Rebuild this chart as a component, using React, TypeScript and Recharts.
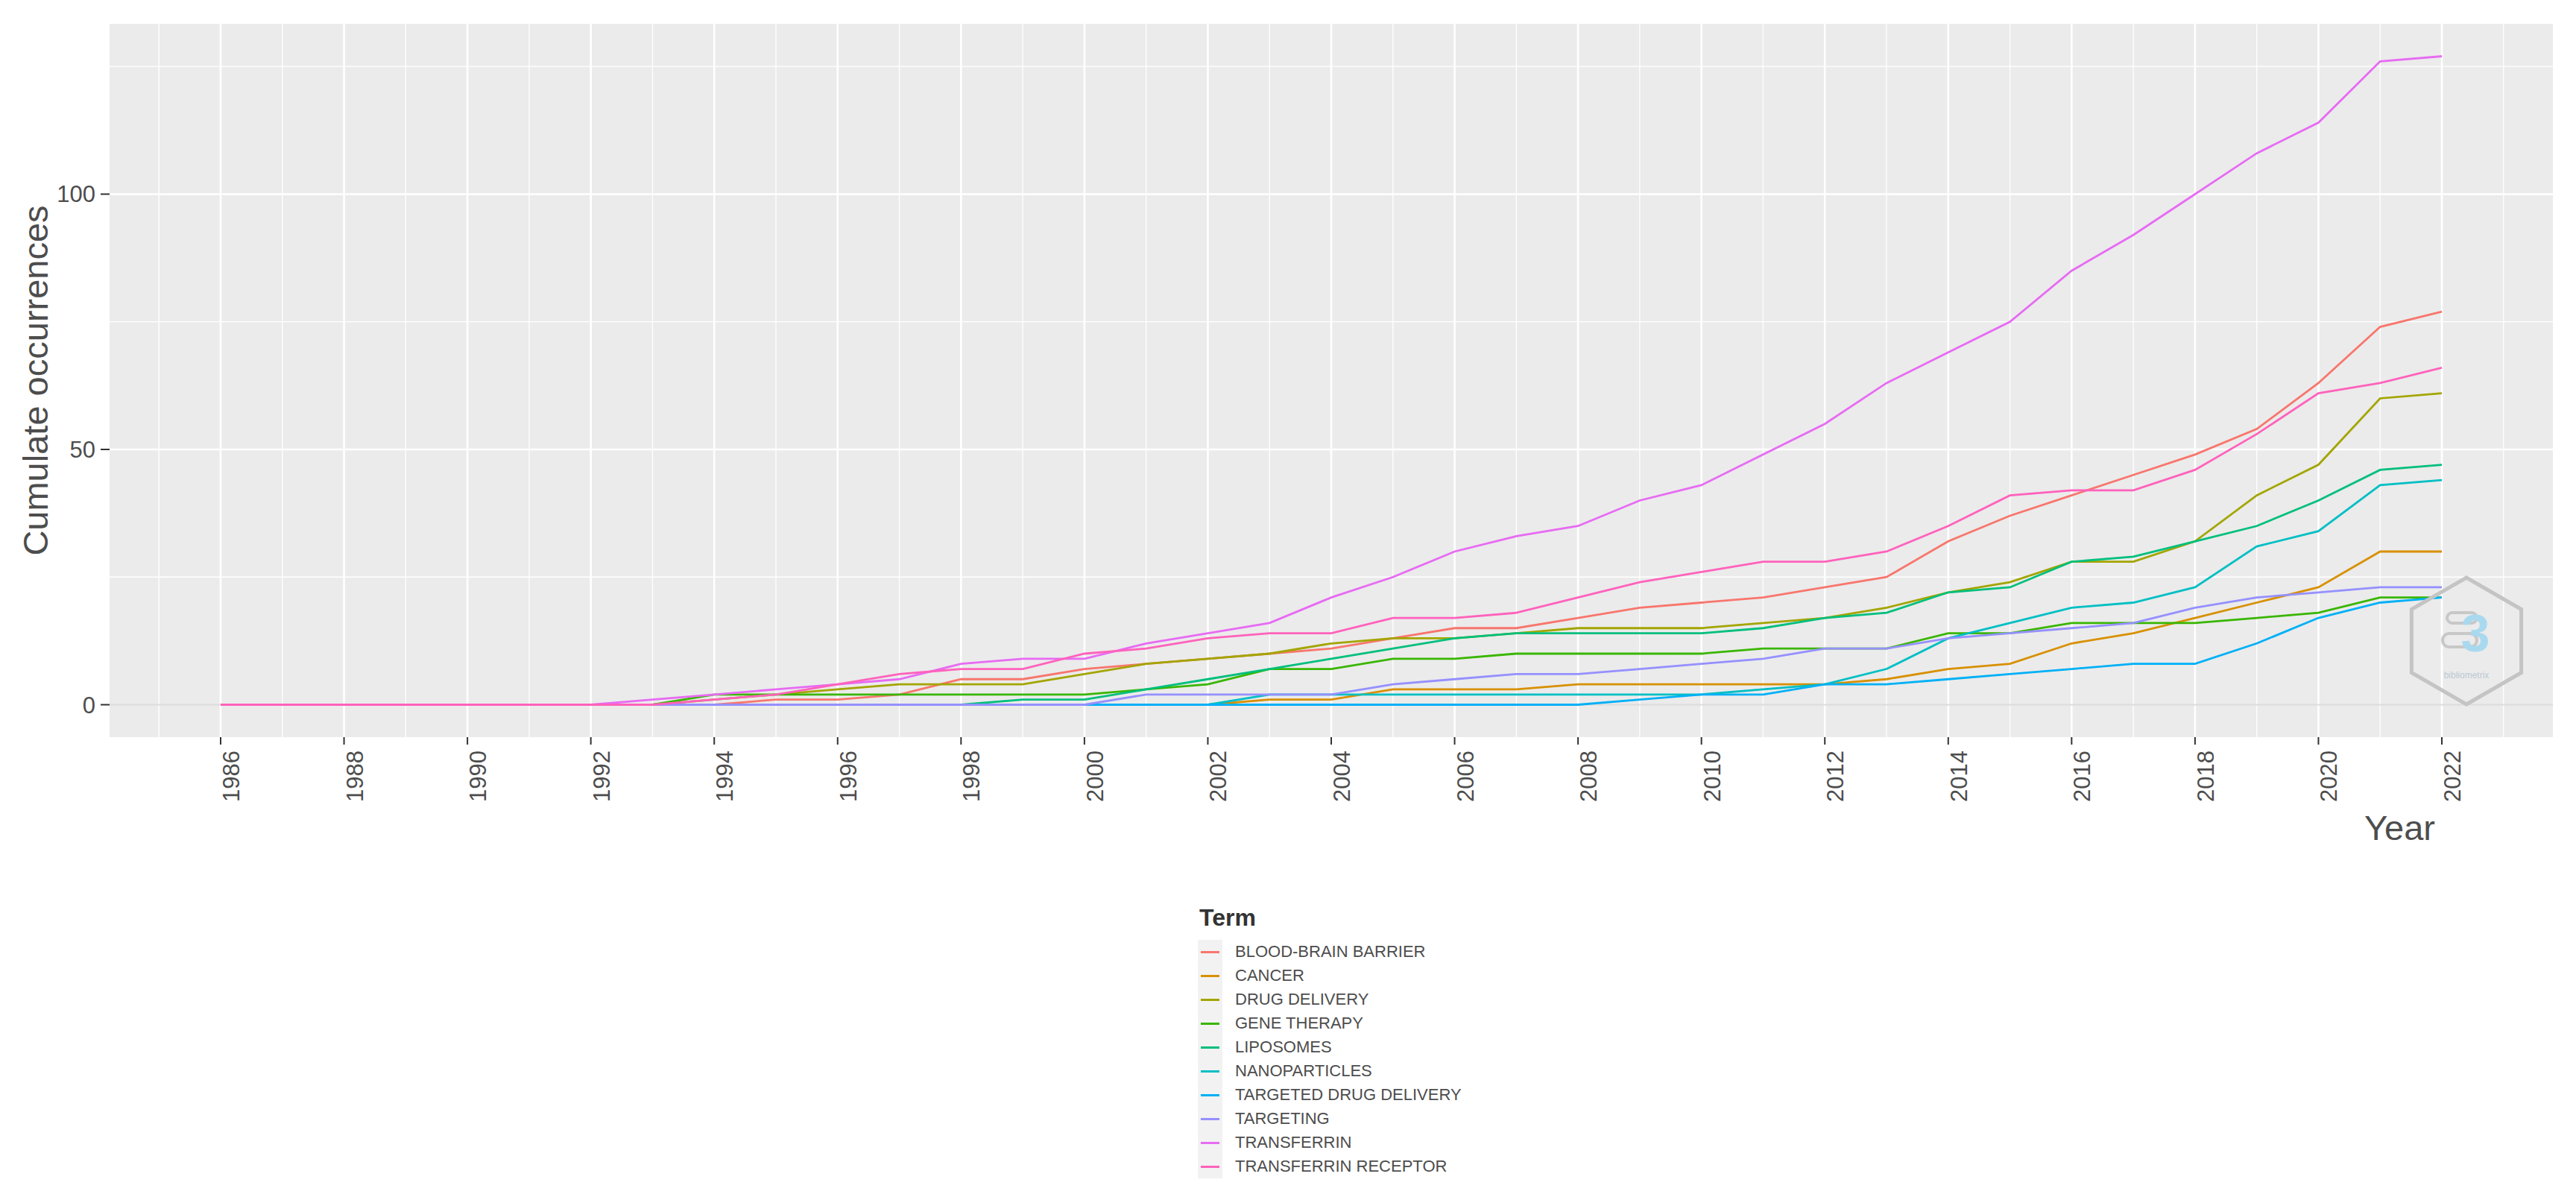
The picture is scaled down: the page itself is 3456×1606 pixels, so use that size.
import React from "react";
import {
  LineChart,
  Line,
  XAxis,
  YAxis,
  CartesianGrid,
} from "recharts";

const years = [
  1986, 1987, 1988, 1989, 1990, 1991, 1992, 1993, 1994, 1995, 1996, 1997, 1998,
  1999, 2000, 2001, 2002, 2003, 2004, 2005, 2006, 2007, 2008, 2009, 2010, 2011,
  2012, 2013, 2014, 2015, 2016, 2017, 2018, 2019, 2020, 2021, 2022,
];

// cumulative occurrences per term, one value per year above
const bloodBrainBarrier = [
  0, 0, 0, 0, 0, 0, 0, 0, 0, 1, 1, 2, 5, 5, 7, 8, 9, 10, 11, 13, 15, 15, 17, 19,
  20, 21, 23, 25, 32, 37, 41, 45, 49, 54, 63, 74, 77,
];
const cancer = [
  0, 0, 0, 0, 0, 0, 0, 0, 0, 0, 0, 0, 0, 0, 0, 0, 0, 1, 1, 3, 3, 3, 4, 4, 4, 4,
  4, 5, 7, 8, 12, 14, 17, 20, 23, 30, 30,
];
const drugDelivery = [
  0, 0, 0, 0, 0, 0, 0, 0, 1, 2, 3, 4, 4, 4, 6, 8, 9, 10, 12, 13, 13, 14, 15, 15,
  15, 16, 17, 19, 22, 24, 28, 28, 32, 41, 47, 60, 61,
];
const geneTherapy = [
  0, 0, 0, 0, 0, 0, 0, 0, 2, 2, 2, 2, 2, 2, 2, 3, 4, 7, 7, 9, 9, 10, 10, 10, 10,
  11, 11, 11, 14, 14, 16, 16, 16, 17, 18, 21, 21,
];
const liposomes = [
  0, 0, 0, 0, 0, 0, 0, 0, 0, 0, 0, 0, 0, 1, 1, 3, 5, 7, 9, 11, 13, 14, 14, 14,
  14, 15, 17, 18, 22, 23, 28, 29, 32, 35, 40, 46, 47,
];
const nanoparticles = [
  0, 0, 0, 0, 0, 0, 0, 0, 0, 0, 0, 0, 0, 0, 0, 0, 0, 2, 2, 2, 2, 2, 2, 2, 2, 3,
  4, 7, 13, 16, 19, 20, 23, 31, 34, 43, 44,
];
const targetedDrugDelivery = [
  0, 0, 0, 0, 0, 0, 0, 0, 0, 0, 0, 0, 0, 0, 0, 0, 0, 0, 0, 0, 0, 0, 0, 1, 2, 2,
  4, 4, 5, 6, 7, 8, 8, 12, 17, 20, 21,
];
const targeting = [
  0, 0, 0, 0, 0, 0, 0, 0, 0, 0, 0, 0, 0, 0, 0, 2, 2, 2, 2, 4, 5, 6, 6, 7, 8, 9,
  11, 11, 13, 14, 15, 16, 19, 21, 22, 23, 23,
];
const transferrin = [
  0, 0, 0, 0, 0, 0, 0, 1, 2, 3, 4, 5, 8, 9, 9, 12, 14, 16, 21, 25, 30, 33, 35,
  40, 43, 49, 55, 63, 69, 75, 85, 92, 100, 108, 114, 126, 127,
];
const transferrinReceptor = [
  0, 0, 0, 0, 0, 0, 0, 0, 1, 2, 4, 6, 7, 7, 10, 11, 13, 14, 14, 17, 17, 18, 21,
  24, 26, 28, 28, 30, 35, 41, 42, 42, 46, 53, 61, 63, 66,
];

const terms = [
  { name: "BLOOD-BRAIN BARRIER", color: "#F8766D", values: bloodBrainBarrier },
  { name: "CANCER", color: "#D89000", values: cancer },
  { name: "DRUG DELIVERY", color: "#A3A500", values: drugDelivery },
  { name: "GENE THERAPY", color: "#39B600", values: geneTherapy },
  { name: "LIPOSOMES", color: "#00BF7D", values: liposomes },
  { name: "NANOPARTICLES", color: "#00BFC4", values: nanoparticles },
  { name: "TARGETED DRUG DELIVERY", color: "#00B0F6", values: targetedDrugDelivery },
  { name: "TARGETING", color: "#9590FF", values: targeting },
  { name: "TRANSFERRIN", color: "#E76BF3", values: transferrin },
  { name: "TRANSFERRIN RECEPTOR", color: "#FF62BC", values: transferrinReceptor },
];

const xTicks = [
  1986, 1988, 1990, 1992, 1994, 1996, 1998, 2000, 2002, 2004, 2006, 2008, 2010,
  2012, 2014, 2016, 2018, 2020, 2022,
];
const xMinor = [
  1985, 1987, 1989, 1991, 1993, 1995, 1997, 1999, 2001, 2003, 2005, 2007, 2009,
  2011, 2013, 2015, 2017, 2019, 2021, 2023,
];
const yTicks = [0, 50, 100];
const yMajorGrid = [50, 100];
const yMinor = [25, 75, 125];
const xDomain = [1984.2, 2023.8];
const yDomain = [-6.35, 133.35];

const data = years.map((year, i) => {
  const row: Record<string, number> = { year };
  terms.forEach((t) => {
    row[t.name] = t.values[i];
  });
  return row;
});

const FONT = "'Liberation Sans', Arial, Helvetica, sans-serif";
const TEXT = "#4D4D4D";

const XTick = (props: any) => {
  const { x, y, payload } = props;
  return (
    <text
      transform={`translate(${x + 25},${y}) rotate(-90)`}
      textAnchor="end"
      fontSize={31}
      fontFamily={FONT}
      fill={TEXT}
    >
      {payload.value}
    </text>
  );
};

const YTitle = (props: any) => {
  const vb = props.viewBox;
  return (
    <text
      transform={`translate(${vb.x + 64},${vb.y + vb.height / 2}) rotate(-90)`}
      textAnchor="middle"
      fontSize={47}
      fontFamily={FONT}
      fill={TEXT}
    >
      Cumulate occurrences
    </text>
  );
};

const XTitle = (props: any) => {
  const vb = props.viewBox;
  return (
    <text
      x={vb.x + vb.width - 158}
      y={vb.y + 138}
      textAnchor="end"
      fontSize={47}
      fontFamily={FONT}
      fill={TEXT}
    >
      Year
    </text>
  );
};

const hexPoints = (cx: number, cy: number, r: number) =>
  [0, 1, 2, 3, 4, 5]
    .map((k) => {
      const a = (Math.PI / 3) * k - Math.PI / 2;
      return `${cx + r * Math.cos(a)},${cy + r * Math.sin(a)}`;
    })
    .join(" ");

const App = () => {
  return (
    <div
      style={{
        position: "absolute",
        left: 0,
        top: 0,
        width: 3456,
        height: 1606,
        background: "#fff",
        fontFamily: FONT,
      }}
    >
      <LineChart
        width={3456}
        height={1180}
        data={data}
        margin={{ top: 32, right: 31, left: 0, bottom: 0 }}
      >
        <CartesianGrid
          fill="#EBEBEB"
          fillOpacity={1}
          stroke="#FFFFFF"
          strokeWidth={1.3}
          horizontalValues={yMinor}
          verticalValues={xMinor}
        />
        <CartesianGrid
          stroke="#FFFFFF"
          strokeWidth={2.6}
          horizontalValues={yMajorGrid}
          verticalValues={xTicks}
        />
        <CartesianGrid
          stroke="#DCDCDC"
          strokeWidth={2}
          vertical={false}
          horizontalValues={[0]}
        />
        <XAxis
          dataKey="year"
          type="number"
          scale="linear"
          domain={xDomain}
          ticks={xTicks}
          interval={0}
          allowDataOverflow
          height={191}
          axisLine={false}
          tickSize={10}
          tickMargin={8}
          tickLine={{ stroke: "#333333", strokeWidth: 2 }}
          tick={<XTick />}
          label={<XTitle />}
        />
        <YAxis
          type="number"
          domain={yDomain}
          ticks={yTicks}
          interval={0}
          allowDataOverflow
          width={147}
          axisLine={false}
          tickSize={12}
          tickMargin={7}
          tickLine={{ stroke: "#333333", strokeWidth: 2 }}
          tick={{ fontSize: 31, fill: TEXT, fontFamily: FONT }}
          label={<YTitle />}
        />
        {terms.map((t) => (
          <Line
            key={t.name}
            type="linear"
            dataKey={t.name}
            stroke={t.color}
            strokeWidth={2.8}
            dot={false}
            activeDot={false}
            isAnimationActive={false}
          />
        ))}
      </LineChart>

      {/* watermark */}
      <svg
        width={220}
        height={220}
        style={{ position: "absolute", left: 3199, top: 750 }}
      >
        <polygon
          points={hexPoints(110, 110, 85)}
          fill="none"
          stroke="#C4C4C4"
          strokeWidth={5}
        />
        <rect x={84} y={72} width={40} height={14} rx={7} fill="none" stroke="#C8C8C8" strokeWidth={4} />
        <rect x={78} y={100} width={46} height={18} rx={9} fill="none" stroke="#C8C8C8" strokeWidth={4} />
        <text x={122} y={124} textAnchor="middle" fontSize={70} fontWeight="bold" fill="#A9D9EF" fontFamily={FONT}>
          3
        </text>
        <text x={110} y={160} textAnchor="middle" fontSize={12} fill="#B9C9D4" fontFamily={FONT}>
          bibliometrix
        </text>
      </svg>

      {/* legend */}
      <div
        style={{
          position: "absolute",
          left: 1609,
          top: 1215,
          fontSize: 32,
          lineHeight: "32px",
          fontWeight: "bold",
          color: "#333",
        }}
      >
        Term
      </div>
      <div style={{ position: "absolute", left: 1607, top: 1261 }}>
        {terms.map((t) => (
          <div
            key={t.name}
            style={{ display: "flex", alignItems: "center", height: 32 }}
          >
            <div
              style={{
                width: 33,
                height: 32,
                background: "#F2F2F2",
                display: "flex",
                alignItems: "center",
                justifyContent: "center",
              }}
            >
              <div style={{ width: 25, height: 3, background: t.color }} />
            </div>
            <span
              style={{
                marginLeft: 17,
                fontSize: 22,
                color: TEXT,
                whiteSpace: "nowrap",
              }}
            >
              {t.name}
            </span>
          </div>
        ))}
      </div>
    </div>
  );
};

export default App;
